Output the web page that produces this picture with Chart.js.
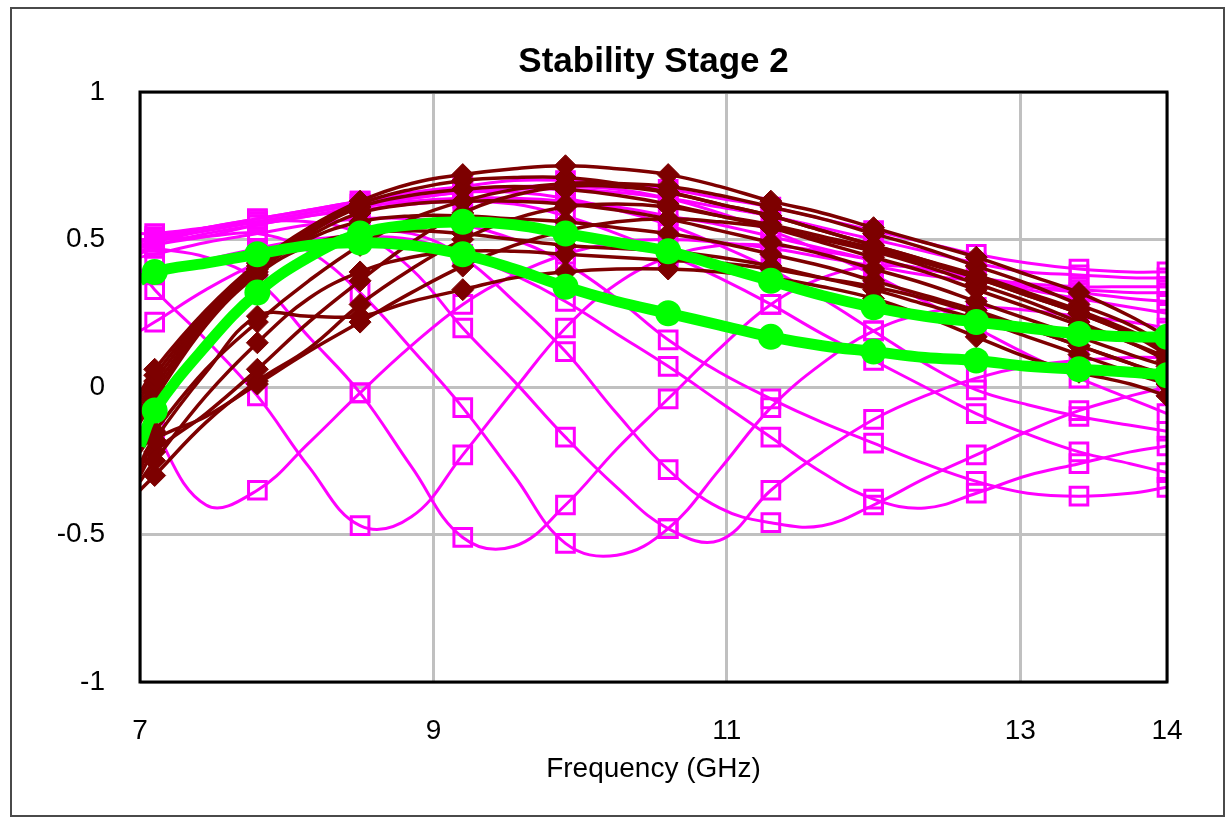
<!DOCTYPE html>
<html>
<head>
<meta charset="utf-8">
<title>Stability Stage 2</title>
<script src="https://cdn.jsdelivr.net/npm/chart.js@4.4.1/dist/chart.umd.min.js"></script>
<style>
  html, body { margin: 0; padding: 0; background: #fff; }
  #wrap { position: relative; width: 1225px; height: 818px; }
  #frame { position: absolute; left: 10px; top: 7px; width: 1211px; height: 806px; border: 2px solid #4a4a4a; pointer-events: none; }
</style>
</head>
<body>
<div id="wrap">
  <canvas id="chart" width="1225" height="818"></canvas>
  <div id="frame"></div>
</div>
<script>
// frequency grid (GHz); markers sit on every other point (7.1, 7.8, ... 13.4)
const freqs = [7.0, 7.1, 7.45, 7.8, 8.15, 8.5, 8.85, 9.2, 9.55, 9.9, 10.25, 10.6, 10.95, 11.3, 11.65, 12.0, 12.35, 12.7, 13.05, 13.4, 13.75, 14.0];
const xTicks = [7, 9, 11, 13, 14];
const yTicks = [-1, -0.5, 0, 0.5, 1];

// green (highlighted) curves
const greenUpper = [-0.2, -0.08, 0.14, 0.32, 0.44, 0.52, 0.55, 0.56, 0.55, 0.52, 0.49, 0.46, 0.41, 0.36, 0.31, 0.27, 0.24, 0.22, 0.20, 0.18, 0.17, 0.17];
const greenLower = [0.36, 0.39, 0.42, 0.45, 0.48, 0.49, 0.48, 0.45, 0.40, 0.34, 0.29, 0.25, 0.21, 0.17, 0.14, 0.12, 0.10, 0.09, 0.07, 0.06, 0.05, 0.04];

// maroon curves (diamond markers)
const maroon1 = [-0.02, 0.06, 0.26, 0.42, 0.54, 0.63, 0.69, 0.72, 0.74, 0.75, 0.74, 0.72, 0.68, 0.63, 0.59, 0.54, 0.49, 0.44, 0.38, 0.32, 0.24, 0.17];
const maroon2 = [-0.04, 0.04, 0.25, 0.41, 0.53, 0.62, 0.67, 0.70, 0.71, 0.71, 0.69, 0.66, 0.62, 0.58, 0.53, 0.48, 0.43, 0.38, 0.32, 0.26, 0.19, 0.13];
const maroon3 = [-0.06, 0.02, 0.24, 0.40, 0.52, 0.61, 0.65, 0.67, 0.68, 0.67, 0.65, 0.62, 0.58, 0.54, 0.49, 0.44, 0.39, 0.33, 0.27, 0.21, 0.15, 0.10];
const maroon4 = [-0.08, 0.00, 0.23, 0.40, 0.51, 0.59, 0.62, 0.63, 0.63, 0.62, 0.60, 0.57, 0.53, 0.49, 0.45, 0.40, 0.35, 0.29, 0.23, 0.17, 0.11, 0.07];
const maroon5 = [-0.10, -0.02, 0.22, 0.39, 0.50, 0.56, 0.58, 0.58, 0.57, 0.56, 0.54, 0.52, 0.49, 0.45, 0.41, 0.36, 0.31, 0.26, 0.20, 0.14, 0.08, 0.04];
const maroon6 = [-0.12, -0.04, 0.21, 0.38, 0.48, 0.52, 0.53, 0.52, 0.50, 0.48, 0.47, 0.46, 0.44, 0.41, 0.37, 0.33, 0.28, 0.23, 0.17, 0.11, 0.05, 0.01];
const maroon7 = [-0.28, -0.18, 0.05, 0.24, 0.24, 0.24, 0.29, 0.33, 0.37, 0.39, 0.40, 0.40, 0.39, 0.37, 0.34, 0.30, 0.24, 0.17, 0.10, 0.05, 0.01, -0.03];
const maroon8 = [-0.32, -0.25, -0.03, 0.15, 0.30, 0.39, 0.44, 0.46, 0.46, 0.45, 0.44, 0.43, 0.42, 0.40, 0.37, 0.34, 0.30, 0.25, 0.20, 0.14, 0.08, 0.03];
const maroon9 = [-0.30, -0.22, -0.09, 0.06, 0.22, 0.36, 0.49, 0.59, 0.65, 0.68, 0.68, 0.66, 0.62, 0.58, 0.53, 0.48, 0.43, 0.37, 0.31, 0.25, 0.18, 0.11];
const maroon10 = [-0.26, -0.18, -0.10, 0.01, 0.12, 0.22, 0.32, 0.41, 0.48, 0.53, 0.56, 0.57, 0.56, 0.54, 0.50, 0.46, 0.41, 0.35, 0.29, 0.22, 0.15, 0.09];
const maroon11 = [-0.22, -0.15, 0.06, 0.22, 0.36, 0.48, 0.57, 0.63, 0.67, 0.69, 0.69, 0.68, 0.65, 0.61, 0.57, 0.52, 0.47, 0.41, 0.35, 0.28, 0.21, 0.14];
const maroon12 = [-0.35, -0.30, -0.12, 0.02, 0.13, 0.28, 0.40, 0.50, 0.57, 0.61, 0.62, 0.61, 0.58, 0.55, 0.51, 0.47, 0.42, 0.37, 0.31, 0.25, 0.18, 0.12];

// magenta curves (square markers)
const magenta1 = [0.49, 0.51, 0.54, 0.57, 0.60, 0.63, 0.66, 0.68, 0.70, 0.70, 0.69, 0.67, 0.64, 0.61, 0.57, 0.53, 0.49, 0.45, 0.42, 0.40, 0.39, 0.39];
const magenta2 = [0.47, 0.50, 0.53, 0.56, 0.59, 0.62, 0.64, 0.66, 0.67, 0.67, 0.66, 0.64, 0.61, 0.58, 0.54, 0.50, 0.46, 0.42, 0.39, 0.38, 0.37, 0.37];
const magenta3 = [0.45, 0.48, 0.51, 0.55, 0.58, 0.61, 0.63, 0.64, 0.64, 0.63, 0.61, 0.58, 0.55, 0.51, 0.47, 0.43, 0.40, 0.37, 0.35, 0.34, 0.34, 0.34];
const magenta4 = [0.19, 0.22, 0.33, 0.42, 0.48, 0.52, 0.52, 0.44, 0.29, 0.12, -0.09, -0.28, -0.41, -0.46, -0.47, -0.40, -0.31, -0.23, -0.15, -0.08, -0.03, 0.00];
const magenta5 = [0.00, -0.14, -0.40, -0.35, -0.19, -0.02, 0.14, 0.28, 0.38, 0.45, 0.49, 0.50, 0.49, 0.47, 0.44, 0.41, 0.38, 0.36, 0.34, 0.33, 0.32, 0.32];
const magenta6 = [0.40, 0.33, 0.16, -0.03, -0.27, -0.47, -0.44, -0.23, -0.01, 0.20, 0.35, 0.44, 0.48, 0.48, 0.46, 0.43, 0.40, 0.37, 0.34, 0.32, 0.30, 0.29];
const magenta7 = [0.48, 0.47, 0.44, 0.36, 0.17, -0.02, -0.27, -0.51, -0.54, -0.40, -0.21, -0.04, 0.13, 0.28, 0.37, 0.41, 0.40, 0.37, 0.33, 0.30, 0.27, 0.25];
const magenta8 = [0.50, 0.50, 0.51, 0.52, 0.46, 0.32, 0.13, -0.07, -0.30, -0.53, -0.57, -0.48, -0.28, -0.07, 0.08, 0.19, 0.25, 0.27, 0.26, 0.24, 0.22, 0.20];
const magenta9 = [0.52, 0.52, 0.54, 0.56, 0.56, 0.52, 0.40, 0.20, 0.02, -0.17, -0.34, -0.48, -0.52, -0.35, -0.22, -0.11, -0.03, 0.03, 0.07, 0.09, 0.10, 0.10];
const magenta10 = [0.36, 0.38, 0.43, 0.47, 0.50, 0.51, 0.50, 0.45, 0.38, 0.29, 0.18, 0.07, -0.05, -0.17, -0.29, -0.38, -0.41, -0.36, -0.30, -0.26, -0.22, -0.20];
const magenta11 = [0.44, 0.45, 0.49, 0.52, 0.55, 0.57, 0.57, 0.55, 0.50, 0.42, 0.30, 0.16, 0.05, -0.04, -0.12, -0.19, -0.26, -0.32, -0.36, -0.37, -0.36, -0.34];
const magenta12 = [0.46, 0.48, 0.52, 0.55, 0.58, 0.60, 0.62, 0.63, 0.62, 0.58, 0.52, 0.45, 0.37, 0.28, 0.18, 0.09, 0.00, -0.09, -0.16, -0.22, -0.26, -0.29];
const magenta13 = [0.47, 0.49, 0.53, 0.56, 0.59, 0.62, 0.64, 0.66, 0.66, 0.64, 0.60, 0.55, 0.48, 0.40, 0.30, 0.19, 0.08, -0.01, -0.06, -0.10, -0.13, -0.15];
const magenta14 = [0.48, 0.50, 0.54, 0.57, 0.60, 0.63, 0.65, 0.67, 0.68, 0.68, 0.67, 0.64, 0.59, 0.53, 0.46, 0.38, 0.29, 0.20, 0.11, 0.03, -0.04, -0.09];

const greenSeries = [greenUpper, greenLower];
const maroonSeries = [maroon1, maroon2, maroon3, maroon4, maroon5, maroon6,
  maroon7, maroon8, maroon9, maroon10, maroon11, maroon12];
const magentaSeries = [magenta1, magenta2, magenta3, magenta4, magenta5, magenta6, magenta7,
  magenta8, magenta9, magenta10, magenta11, magenta12, magenta13, magenta14];

function toPoints(values) {
  return freqs.map((f, i) => ({ x: f, y: values[i] }));
}

function markerEvery(radius) {
  return (c) => (c.dataIndex % 2 === 1 ? radius : 0);
}

const datasets = [];

greenSeries.forEach((vals) => {
  datasets.push({
    data: toPoints(vals),
    borderColor: "#00ff00",
    backgroundColor: "#00ff00",
    borderWidth: 11,
    pointStyle: "circle",
    pointRadius: markerEvery(13),
    pointBorderWidth: 0,
    tension: 0.4,
    order: 0,
  });
});

maroonSeries.forEach((vals) => {
  datasets.push({
    data: toPoints(vals),
    borderColor: "#7d0000",
    backgroundColor: "#7d0000",
    borderWidth: 3.5,
    pointStyle: "rectRot",
    pointRadius: markerEvery(11),
    pointBorderWidth: 1,
    tension: 0.4,
    order: 1,
  });
});

magentaSeries.forEach((vals) => {
  datasets.push({
    data: toPoints(vals),
    borderColor: "#ff00ff",
    backgroundColor: "rgba(0,0,0,0)",
    pointBorderColor: "#ff00ff",
    borderWidth: 3,
    pointStyle: "rect",
    pointRadius: markerEvery(12.5),
    pointBorderWidth: 3,
    tension: 0.4,
    order: 2,
  });
});

const framePlugin = {
  id: "plotFrame",
  afterDatasetsDraw(chart) {
    const { ctx, chartArea: a } = chart;
    ctx.save();
    ctx.strokeStyle = "#000";
    ctx.lineWidth = 3;
    ctx.strokeRect(a.left, a.top, a.right - a.left, a.bottom - a.top);
    ctx.restore();
  },
};

const labelFont = { family: "'Liberation Sans', Arial, sans-serif", size: 28 };

new Chart(document.getElementById("chart").getContext("2d"), {
  type: "line",
  data: { datasets: datasets },
  options: {
    responsive: false,
    animation: false,
    events: [],
    layout: { padding: { left: 0, right: 58, top: 0, bottom: 0 } },
    plugins: {
      legend: { display: false },
      tooltip: { enabled: false },
      title: {
        display: true,
        text: "Stability Stage 2",
        fullSize: false,
        color: "#000",
        font: { family: "'Liberation Sans', Arial, sans-serif", size: 35, weight: "bold" },
        padding: { top: 41, bottom: 9 },
      },
    },
    scales: {
      x: {
        type: "linear",
        min: 7,
        max: 14,
        afterBuildTicks: (s) => { s.ticks = xTicks.map((v) => ({ value: v })); },
        afterFit: (s) => { s.height = 136; },
        grid: { color: "#c0c0c0", lineWidth: 3, drawTicks: false },
        border: { display: false },
        ticks: { color: "#000", font: labelFont, padding: 32, maxRotation: 0, callback: (v) => String(v) },
        title: {
          display: true,
          text: "Frequency (GHz)",
          color: "#000",
          font: labelFont,
          padding: { top: 0, bottom: 32 },
        },
      },
      y: {
        type: "linear",
        min: -1,
        max: 1,
        afterBuildTicks: (s) => { s.ticks = yTicks.map((v) => ({ value: v })); },
        afterFit: (s) => { s.width = 140; },
        grid: { color: "#c0c0c0", lineWidth: 3, drawTicks: false },
        border: { display: false },
        ticks: { color: "#000", font: labelFont, padding: 35, callback: (v) => String(v) },
      },
    },
  },
  plugins: [framePlugin],
});
</script>
</body>
</html>
